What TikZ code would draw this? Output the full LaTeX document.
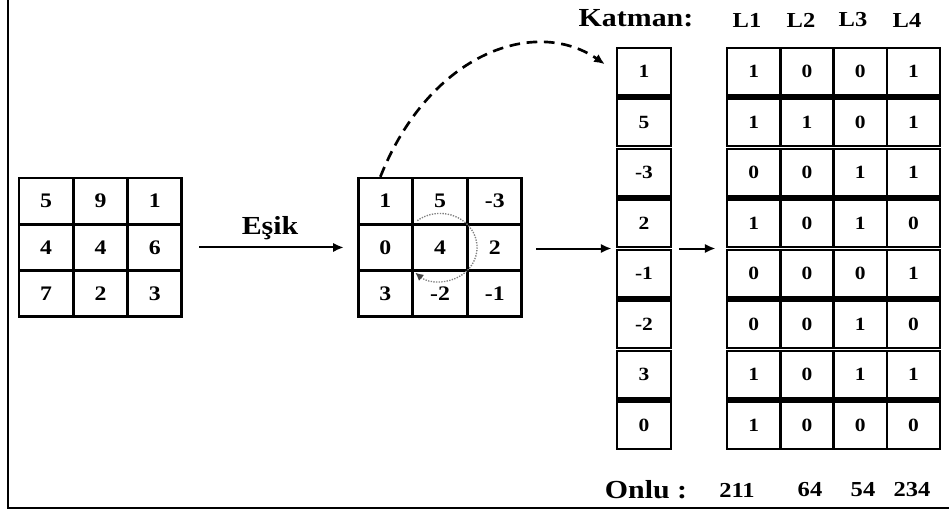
\documentclass[tikz,border=0pt]{standalone}
\usepackage{fontspec}
\setmainfont{Liberation Serif}[FakeStretch=1.15]
\usetikzlibrary{calc, fit, positioning, arrows.meta}

\begin{document}
\begin{tikzpicture}[x=0.75pt, y=-0.75pt]
\tikzset{cell/.style={rectangle, draw, line width=2pt, minimum width=40.5pt, minimum height=34.5pt, inner sep=0pt, font=\bfseries\fontsize{15.5}{15.5}\selectfont},
  bit/.style={cell, line width=1.8pt, minimum width=40pt, minimum height=35.6pt, font=\bfseries\fontsize{14}{14}\selectfont},
  lbl/.style={inner sep=0pt, font=\bfseries\fontsize{16}{16}\selectfont},
  big/.style={inner sep=0pt, font=\bfseries\fontsize{19.5}{19.5}\selectfont},
  conn/.style={line width=1.5pt, -{Latex[length=8pt, width=7pt]}}}

% Normalize bounding box
\useasboundingbox (0,0) rectangle (949,510);
\draw [line width=1.5pt] (8,0) -- (8,508) -- (949,508);

% input patch and thresholded patch
\foreach \row [count=\r] in {{5,9,1},{4,4,6},{7,2,3}}
  \foreach \v [count=\c] in \row
    \node [cell] (A\r\c) at ({19+54.3*(\c-0.5)}, {178+46.3*(\r-0.5)}) {\v};
\foreach \row [count=\r] in {{1,5,-3},{0,4,2},{3,-2,-1}}
  \foreach \v [count=\c] in \row
    \node [cell] (B\r\c) at ({358+54.7*(\c-0.5)}, {178+46.3*(\r-0.5)}) {\v};

% neighbour order, then bit planes
\foreach \v [count=\k] in {1,5,-3,2,-1,-2,3,0}
  \node [bit, minimum width=40.5pt] (K\k) at (644, {48+50.5*(\k-1)+23.75}) {\v};
\foreach \row [count=\r] in {{1,0,0,1},{1,1,0,1},{0,0,1,1},{1,0,1,0},{0,0,0,1},{0,0,1,0},{1,0,1,1},{1,0,0,0}}
  \foreach \v [count=\c] in \row
    \node [bit] (M\r\c) at ({727+53.25*(\c-0.5)}, {48+50.5*(\r-1)+23.75}) {\v};

\node [draw=none, fit=(A11) (A33), inner sep=0pt] (A) {};
\node [draw=none, fit=(B11) (B33), inner sep=0pt] (B) {};
\node [draw=none, fit=(K1) (K8), inner sep=0pt] (K) {};
\node [draw=none, fit=(M11) (M84), inner sep=0pt] (M) {};

\node [big] (Kt) at (636,18) {Katman:};
\node [big] (On) at (646,490) {Onlu :};
\foreach \l/\x in {1/747, 2/801, 3/853, 4/907}
  \node [lbl] (L\l) at (\x,20) {L\l};
\foreach \n/\x [count=\i] in {211/737, 64/810, 54/863, 234/912}
  \node [lbl] (D\i) at (\x,490) {\n};

\draw [conn, shorten <=12pt, shorten >=9.75pt] (A.east) -- node [big, above=5pt] (E) {Eşik} (B.west);
\draw [conn, shorten <=9.75pt, shorten >=3pt] (K.west -| B.east) -- (K.west);
\draw [conn, shorten <=5pt, shorten >=7.5pt] (K.east) -- (M.west);

\draw [line width=2pt, dash pattern=on 8pt off 5pt, -{Latex[length=8pt, width=7pt]}, shorten >=10pt] ($(B11.north) + (-5,0)$) .. controls ($(B11.north) + (45,-125)$) and ($(K1.west) + (-80,-55)$) .. (K1.west);
\draw [gray, densely dotted, line width=1pt, -{Latex[length=6pt, width=6pt, color=darkgray]}] ($(B22.center) + (128:27.75pt and 25.5pt)$) arc [start angle=128, end angle=-132, x radius=27.75pt, y radius=25.5pt];

\end{tikzpicture}
\end{document}
